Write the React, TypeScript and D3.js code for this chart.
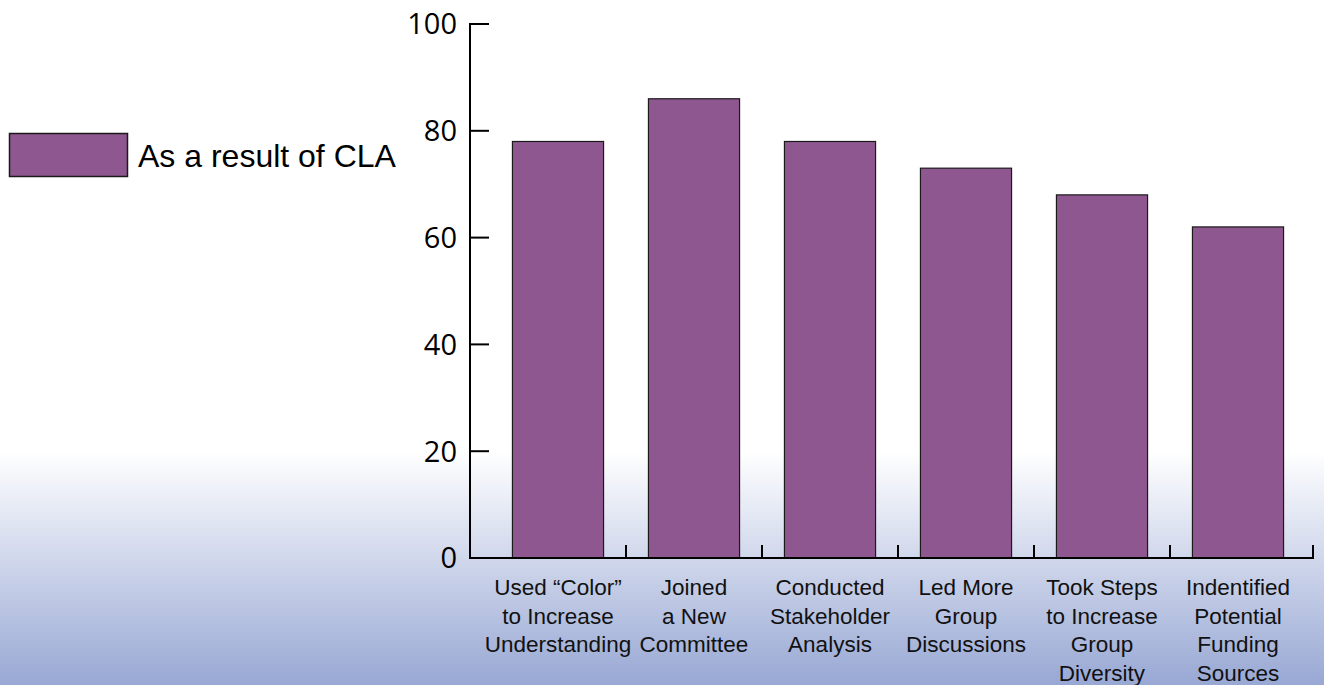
import React from "react";
import * as d3 from "d3";

const categories: string[][] = [
  ["Used \u201cColor\u201d", "to Increase", "Understanding"],
  ["Joined", "a New", "Committee"],
  ["Conducted", "Stakeholder", "Analysis"],
  ["Led More", "Group", "Discussions"],
  ["Took Steps", "to Increase", "Group", "Diversity"],
  ["Indentified", "Potential", "Funding", "Sources"],
];
const values: number[] = [78, 86, 78, 73, 68, 62];
const yTicks: number[] = [0, 20, 40, 60, 80, 100];
const seriesName = "As a result of CLA";

const W = 1324;
const H = 685;
const BAR_FILL = "#8f578f";

export default function App() {
  const x = d3
    .scaleBand<number>()
    .domain(categories.map((_, i) => i))
    .range([490, 1306])
    .padding(0);
  const y = d3.scaleLinear().domain([0, 100]).range([558, 24]);
  const barW = x.bandwidth() * 0.67;
  const axisX = 470;
  const axisEnd = 1313;

  return (
    <svg
      width={W}
      height={H}
      style={{ position: "absolute", left: 0, top: 0, display: "block" }}
    >
      <defs>
        <linearGradient id="bg" gradientUnits="userSpaceOnUse" x1="0" y1="452" x2="0" y2="685">
          <stop offset="0" stopColor="#ffffff" />
          <stop offset="1" stopColor="#98a8d4" />
        </linearGradient>
      </defs>
      <rect x={0} y={0} width={W} height={H} fill="url(#bg)" />

      {/* legend */}
      <rect x={9.5} y={133.5} width={118} height={43} fill={BAR_FILL} stroke="#1a1a1a" strokeWidth={1.5} />
      <text x={138} y={167} fontFamily="'Liberation Sans', Arial, sans-serif" fontSize={32} fill="#000">
        {seriesName}
      </text>

      {/* bars */}
      {values.map((v, i) => (
        <rect
          key={i}
          x={x(i)! + (x.bandwidth() - barW) / 2}
          y={y(v)}
          width={barW}
          height={y(0) - y(v)}
          fill={BAR_FILL}
          stroke="#1a1a1a"
          strokeWidth={1.2}
        />
      ))}

      {/* y axis */}
      <line x1={axisX} x2={axisX} y1={y(100) - 1} y2={y(0)} stroke="#000" strokeWidth={2} />
      {yTicks.map((t) => (
        <g key={t}>
          <line x1={axisX} x2={489} y1={y(t)} y2={y(t)} stroke="#000" strokeWidth={2} />
          <text
            x={457}
            y={y(t)}
            dy="0.36em"
            textAnchor="end"
            fontFamily="'Open Sans', sans-serif"
            fontSize={29}
            fill="#000"
          >
            {t}
          </text>
        </g>
      ))}

      {/* x axis */}
      <line x1={axisX - 1} x2={axisEnd + 1} y1={y(0)} y2={y(0)} stroke="#000" strokeWidth={2} />
      {categories.map((_, i) =>
        i === categories.length - 1 ? (
          <line key={i} x1={axisEnd} x2={axisEnd} y1={y(0)} y2={y(0) - 13} stroke="#000" strokeWidth={2} />
        ) : (
          <line
            key={i}
            x1={x(i)! + x.bandwidth()}
            x2={x(i)! + x.bandwidth()}
            y1={y(0)}
            y2={y(0) - 13}
            stroke="#000"
            strokeWidth={2}
          />
        )
      )}
      {categories.map((lines, i) => (
        <text
          key={i}
          x={x(i)! + x.bandwidth() / 2}
          y={595}
          textAnchor="middle"
          fontFamily="'Liberation Sans', Arial, sans-serif"
          fontSize={22.5}
          fill="#111"
        >
          {lines.map((l, j) => (
            <tspan key={j} x={x(i)! + x.bandwidth() / 2} y={595 + j * 28.5}>
              {l}
            </tspan>
          ))}
        </text>
      ))}
    </svg>
  );
}
